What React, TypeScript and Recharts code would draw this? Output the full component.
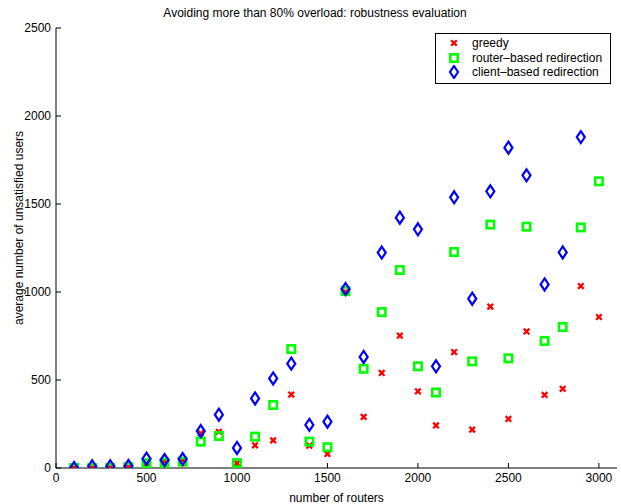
import { ScatterChart, Scatter, XAxis, YAxis } from 'recharts'

// number of routers, one entry per run
const routers = [
  100, 200, 300, 400, 500, 600, 700, 800, 900, 1000,
  1100, 1200, 1300, 1400, 1500, 1600, 1700, 1800, 1900, 2000,
  2100, 2200, 2300, 2400, 2500, 2600, 2700, 2800, 2900, 3000,
]

const greedy = [
  0, 2, 3, 5, 25, 35, 45, 197, 206, 28,
  129, 157, 417, 127, 80, 1000, 290, 540, 752, 436,
  242, 659, 218, 917, 279, 776, 415, 450, 1034, 858,
]

const routerBased = [
  0, 0, 0, 5, 27, 30, 36, 150, 182, 28,
  178, 358, 676, 150, 118, 1005, 564, 886, 1125, 578,
  429, 1227, 606, 1383, 623, 1371, 722, 801, 1367, 1629,
]

// no point at 3000 in the picture
const clientBased = [
  0, 10, 10, 12, 53, 45, 51, 210, 303, 114,
  395, 509, 593, 245, 263, 1017, 631, 1224, 1422, 1356,
  578, 1538, 962, 1572, 1820, 1663, 1043, 1225, 1880,
]

const xTicks = [0, 500, 1000, 1500, 2000, 2500, 3000]
const yTicks = [0, 500, 1000, 1500, 2000, 2500]

const RED = '#ff0000'
const GREEN = '#00ff00'
const BLUE = '#0000ff'
const FONT = '"Liberation Sans", Arial, sans-serif'

const toPoints = (values: number[]) => values.map((y, i) => ({ x: routers[i], y }))

const Cross = ({ cx, cy }: any) => (
  <g stroke={RED} strokeWidth={2.3}>
    <line x1={cx - 2.8} y1={cy - 2.8} x2={cx + 2.8} y2={cy + 2.8} />
    <line x1={cx - 2.8} y1={cy + 2.8} x2={cx + 2.8} y2={cy - 2.8} />
  </g>
)

const Square = ({ cx, cy }: any) => (
  <rect x={cx - 3.7} y={cy - 3.7} width={7.4} height={7.4} fill="none" stroke={GREEN} strokeWidth={2.6} />
)

const Diamond = ({ cx, cy }: any) => (
  <polygon
    points={`${cx},${cy - 6} ${cx + 4},${cy} ${cx},${cy + 6} ${cx - 4},${cy}`}
    fill="none"
    stroke={BLUE}
    strokeWidth={2.2}
  />
)

const legendItems = [
  { label: 'greedy', Marker: Cross },
  { label: 'router\u2013based redirection', Marker: Square },
  { label: 'client\u2013based redirection', Marker: Diamond },
]

function ChartLegend() {
  return (
    <div
      style={{
        position: 'absolute',
        top: 33,
        left: 435,
        border: '1px solid #000',
        background: '#fff',
        width: 176,
        height: 51,
        boxSizing: 'border-box',
        paddingTop: 2,
        fontFamily: FONT,
        fontSize: 12,
        color: '#000',
      }}
    >
      {legendItems.map(({ label, Marker }) => (
        <div key={label} style={{ display: 'flex', alignItems: 'center', height: 14.5 }}>
          <svg width={34} height={14} style={{ flex: 'none' }}>
            <Marker cx={18} cy={7} />
          </svg>
          <span style={{ marginLeft: 2, lineHeight: '14px' }}>{label}</span>
        </div>
      ))}
    </div>
  )
}

export default function App() {
  return (
    <div style={{ position: 'absolute', left: 0, top: 0, width: 621, height: 504, background: '#fff' }}>
      <div
        style={{
          position: 'absolute',
          top: 6,
          left: 0,
          width: 630,
          textAlign: 'center',
          fontFamily: FONT,
          fontSize: 12,
          color: '#000',
        }}
      >
        Avoiding more than 80% overload: robustness evaluation
      </div>
      <ScatterChart width={621} height={504} margin={{ top: 28, right: 4, left: 0, bottom: 0 }}>
        <XAxis
          type="number"
          dataKey="x"
          domain={[0, 3100]}
          ticks={xTicks}
          height={36}
          tickSize={-5}
          tickMargin={10}
          stroke="#000"
          tick={{ fill: '#000', fontSize: 12, fontFamily: FONT }}
          allowDataOverflow
          label={{
            value: 'number of routers',
            position: 'insideBottom',
            offset: 2,
            fill: '#000',
            fontSize: 12,
            fontFamily: FONT,
          }}
        />
        <YAxis
          type="number"
          dataKey="y"
          domain={[0, 2500]}
          ticks={yTicks}
          width={56}
          tickSize={-5}
          tickMargin={10}
          stroke="#000"
          tick={{ fill: '#000', fontSize: 12, fontFamily: FONT }}
          allowDataOverflow
          label={{
            value: 'average number of unsatisfied users',
            angle: -90,
            position: 'insideLeft',
            dx: 14,
            dy: -20,
            style: { textAnchor: 'middle' },
            fill: '#000',
            fontSize: 12,
            fontFamily: FONT,
          }}
        />
        <Scatter name="greedy" data={toPoints(greedy)} shape={Cross} isAnimationActive={false} />
        <Scatter name="router-based redirection" data={toPoints(routerBased)} shape={Square} isAnimationActive={false} />
        <Scatter name="client-based redirection" data={toPoints(clientBased)} shape={Diamond} isAnimationActive={false} />
      </ScatterChart>
      <ChartLegend />
    </div>
  )
}
